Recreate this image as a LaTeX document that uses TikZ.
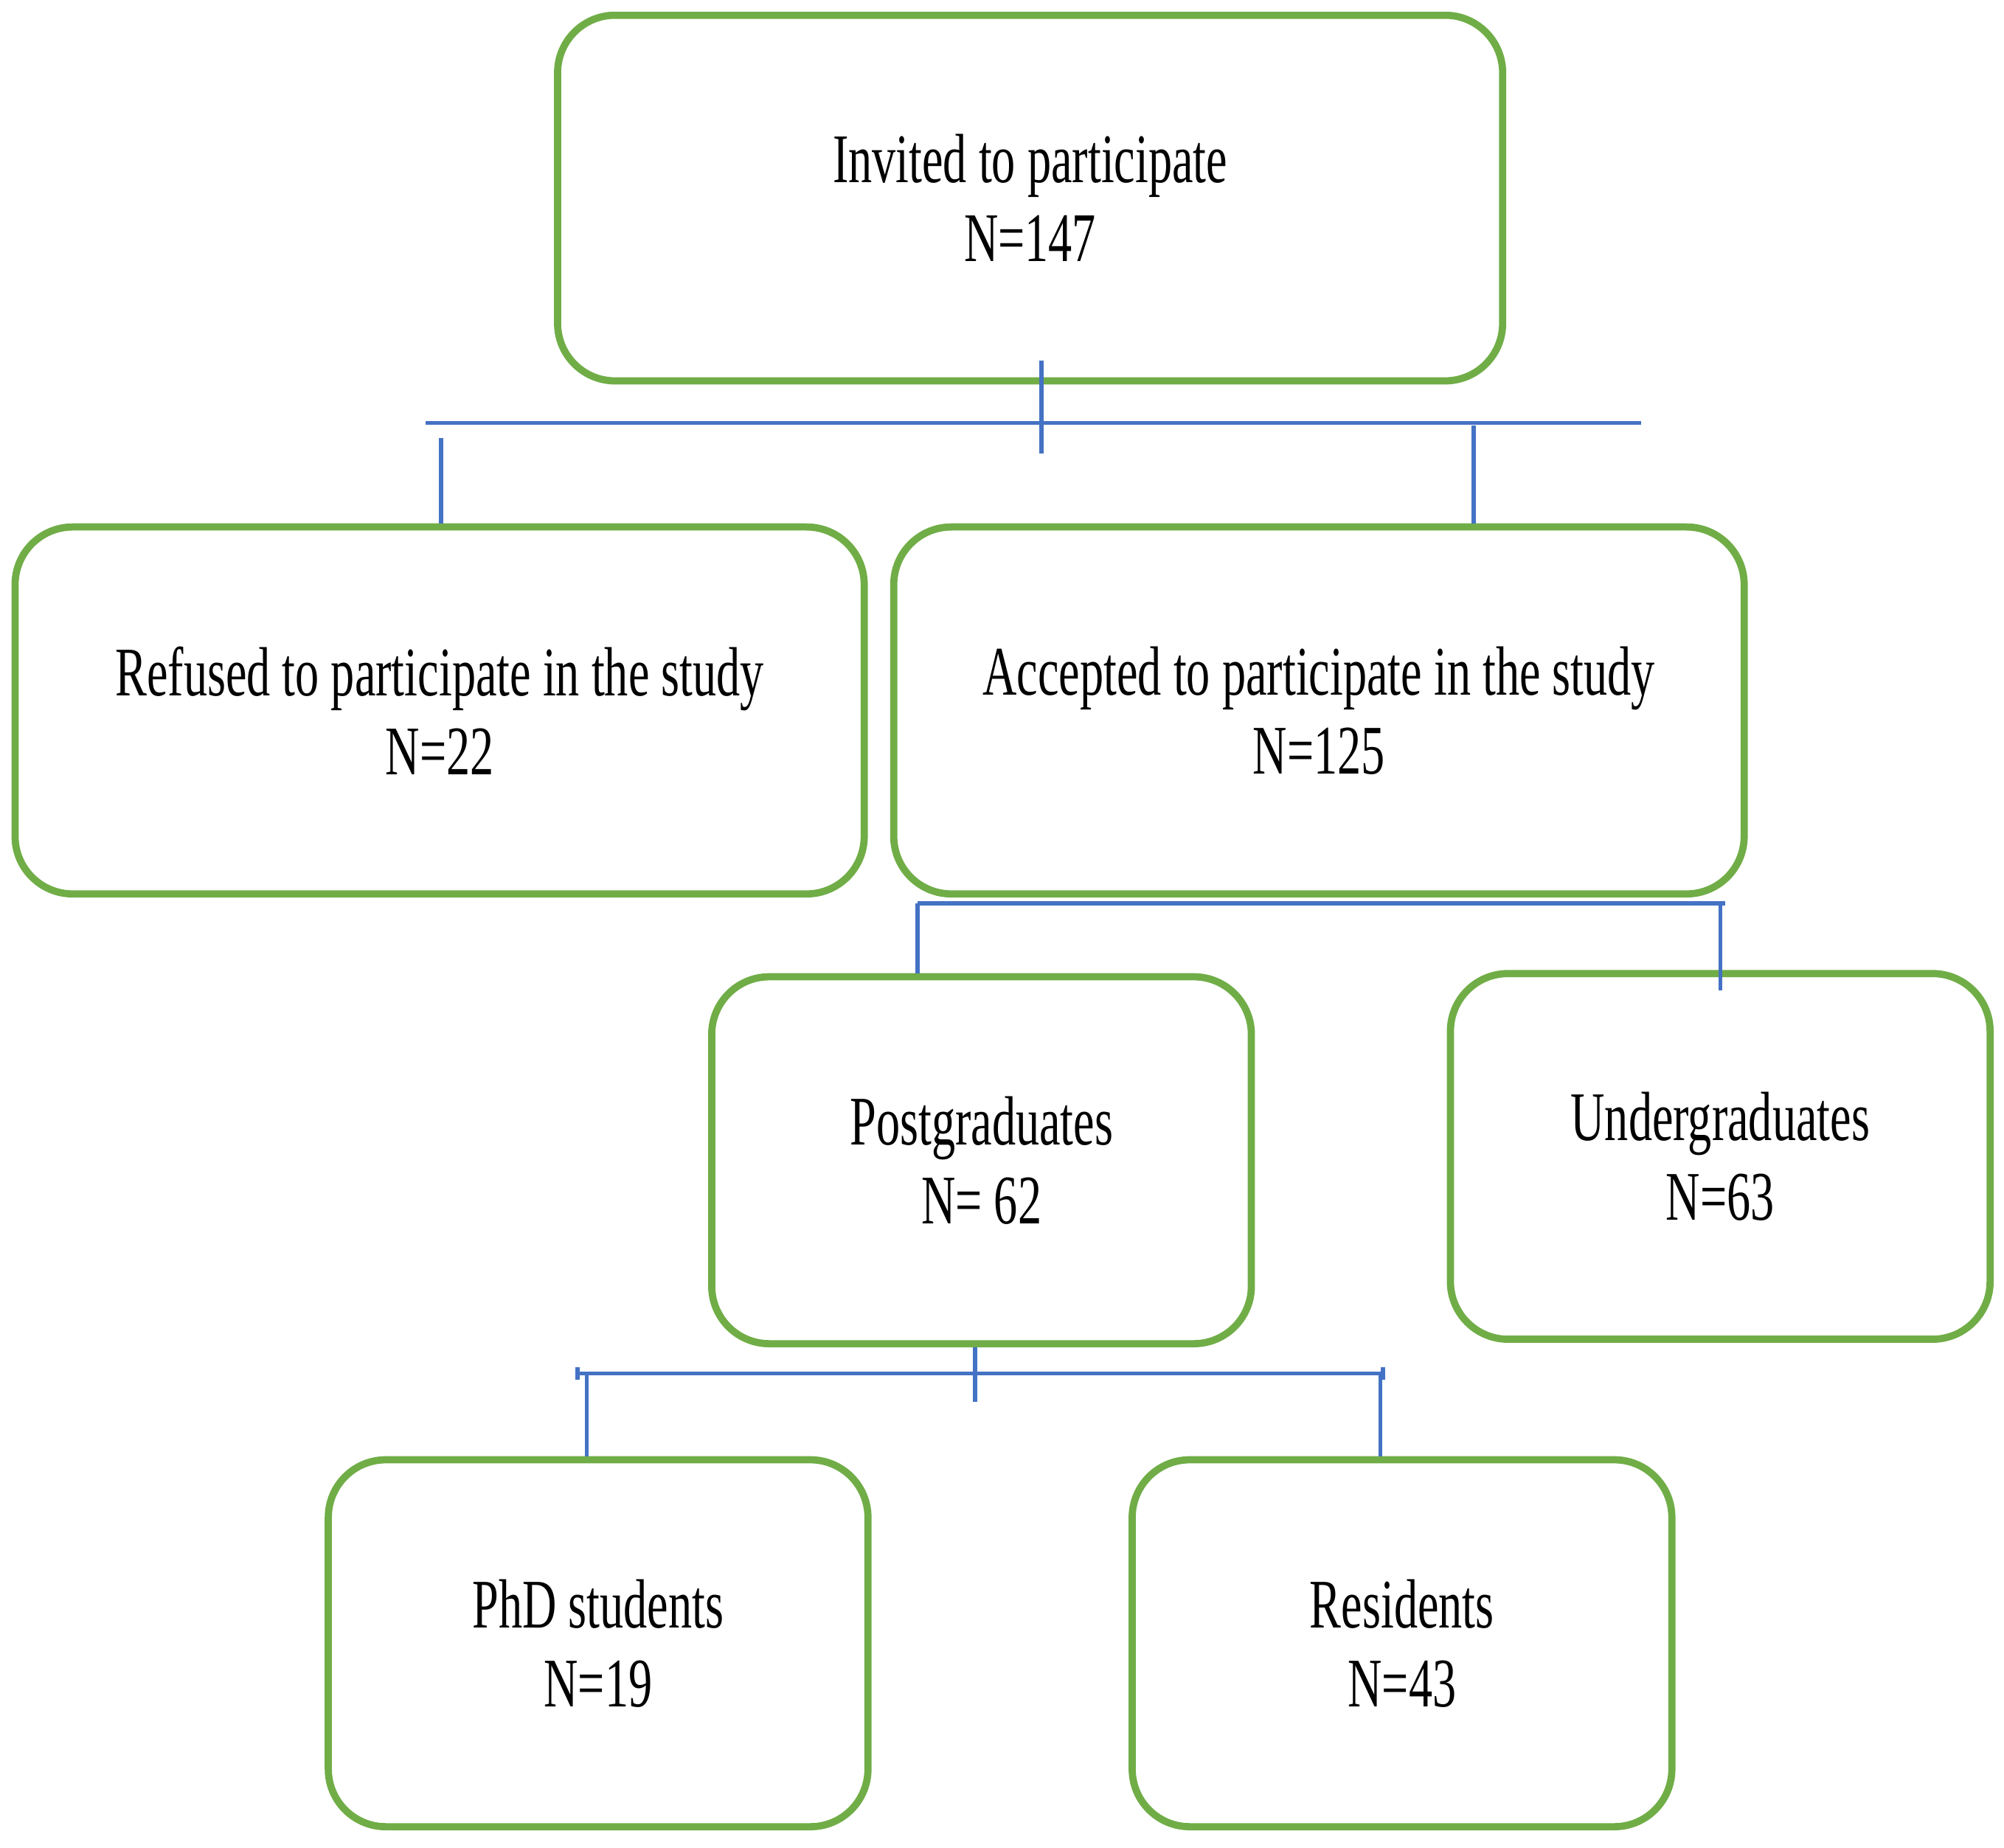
\documentclass[tikz,border=0pt]{standalone}
\usepackage{fontspec}
\setmainfont{Liberation Serif}[FakeStretch=0.68]
\usetikzlibrary{calc}
\definecolor{boxgreen}{RGB}{112,173,71}
\definecolor{linkblue}{RGB}{68,114,196}

\begin{document}
\begin{tikzpicture}[x=0.01cm,y=-0.01cm,
    box/.style={draw=boxgreen, line width=1.6pt, rounded corners=0.45cm, align=center,
        font=\fontsize{15.5}{17.6}\selectfont},
    link/.style={draw=linkblue, line width=0.9pt}]
    % Fix the canvas
    \useasboundingbox (0,0) rectangle (1568,1446);

    % Boxes
    \node[box, minimum width=7.39cm, minimum height=2.86cm] (invited) at (806,155) {Invited to participate\\N=147};
    \node[box, minimum width=6.64cm, minimum height=2.87cm] (refused) at (344,556) {Refused to participate in the study\\N=22};
    \node[box, minimum width=6.65cm, minimum height=2.87cm] (accepted) at (1032,556) {Accepted to participate in the study\\N=125};
    \node[box, minimum width=4.22cm, minimum height=2.87cm] (post) at (768,908) {Postgraduates\\N= 62};
    \node[box, minimum width=4.22cm, minimum height=2.86cm] (under) at (1346,905) {Undergraduates\\N=63};
    \node[box, minimum width=4.22cm, minimum height=2.87cm] (phd) at (468,1286) {PhD students\\N=19};
    \node[box, minimum width=4.22cm, minimum height=2.87cm] (res) at (1097,1286) {Residents\\N=43};

    % First split
    \coordinate (s1l) at (333,331);
    \coordinate (s1r) at (1284,331);
    \draw[link] (s1l) -- (s1r);
    \draw[link] (815,282) -- (815,355);
    \draw[link] (345,343) -- (refused.north -| 345,0);
    \draw[link] (1153,333) -- (accepted.north -| 1153,0);

    % Second split
    \coordinate (s2l) at (718,707);
    \coordinate (s2r) at (1350,707);
    \draw[link] (s2l) -- (s2r);
    \draw[link] (s2l) -- (post.north -| s2l);
    \draw[link] (1346,707) -- (1346,775);

    % Third split
    \coordinate (s3l) at (452,1075);
    \coordinate (s3r) at (1082,1075);
    \draw[link] (s3l) -- (s3r);
    \draw[link] (452,1070) -- (452,1080);
    \draw[link] (1082,1070) -- (1082,1080);
    \draw[link] (post.south -| 763,0) -- (763,1097);
    \draw[link] (459,1075) -- (phd.north -| 459,0);
    \draw[link] (1080,1075) -- (res.north -| 1080,0);
\end{tikzpicture}
\end{document}
